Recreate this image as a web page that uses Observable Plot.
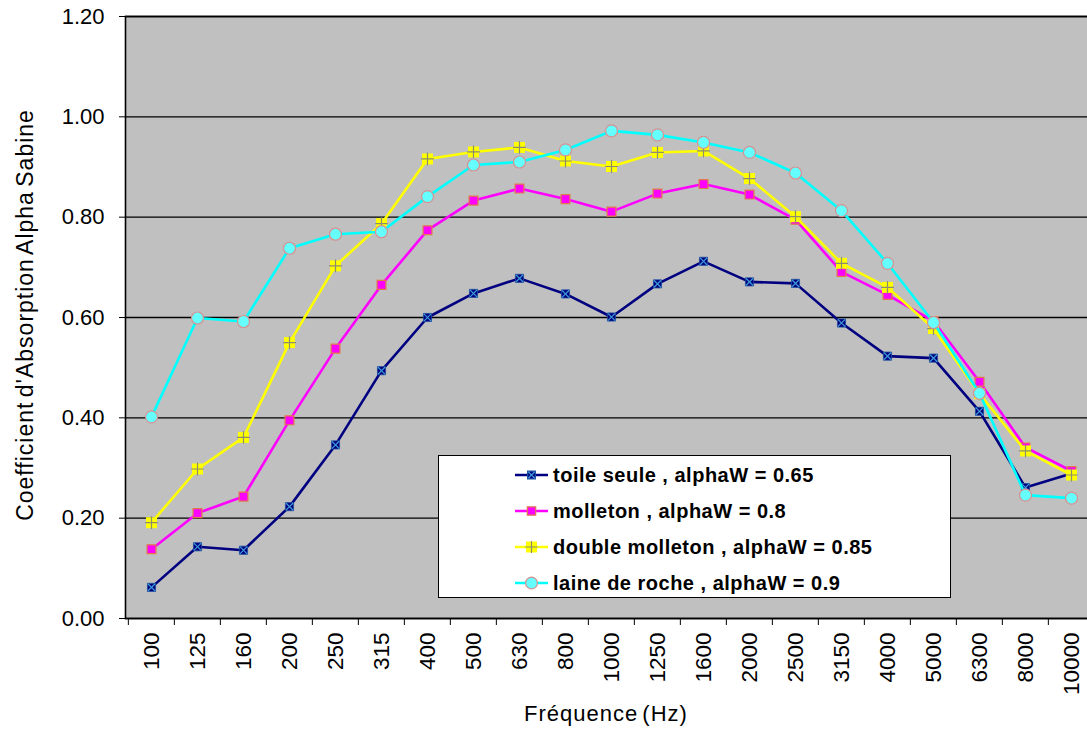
<!DOCTYPE html>
<html>
<head>
<meta charset="utf-8">
<script src="https://cdn.jsdelivr.net/npm/d3@7"></script>
<script src="https://cdn.jsdelivr.net/npm/@observablehq/plot@0.6"></script>
<style>
  html, body { margin: 0; padding: 0; background: #fff; }
  body { width: 1087px; height: 733px; overflow: hidden; position: relative; font-family: "Liberation Sans", Arial, sans-serif; }
  #chart { position: absolute; left: 0; top: 0; width: 1097px; }
  .ytitle { position: absolute; left: 25px; top: 315px; transform: translate(-50%, -50%) rotate(-90deg); white-space: nowrap; font-size: 23px; letter-spacing: 1px; word-spacing: -3px; color: #000; }
  .xtitle { position: absolute; left: 606px; top: 714px; transform: translate(-50%, -50%); white-space: nowrap; font-size: 22px; letter-spacing: 1px; word-spacing: -3px; color: #000; }
  #legend { position: absolute; left: 438px; top: 455px; width: 513px; height: 143px; background: #fff; border: 1px solid #000; box-sizing: border-box; }
  .lrow { position: absolute; left: 0; height: 30px; display: flex; align-items: center; }
  .lrow svg { margin-left: 76px; }
  .lrow span { margin-left: 4px; font-weight: bold; font-size: 20px; letter-spacing: 0.5px; color: #000; white-space: nowrap; }
</style>
</head>
<body>
<div id="chart"></div>
<div class="ytitle">Coefficient d'Absorption Alpha Sabine</div>
<div class="xtitle">Fréquence (Hz)</div>
<div id="legend"></div>
<script>
const freqs = ["100","125","160","200","250","315","400","500","630","800","1000","1250","1600","2000","2500","3150","4000","5000","6300","8000","10000"];
const toileSeule = [0.062,0.143,0.136,0.223,0.346,0.494,0.600,0.648,0.678,0.647,0.601,0.667,0.712,0.671,0.668,0.589,0.523,0.519,0.413,0.261,0.289];
const molleton = [0.138,0.210,0.243,0.395,0.538,0.665,0.774,0.833,0.857,0.836,0.811,0.847,0.866,0.845,0.795,0.691,0.645,0.593,0.472,0.341,0.294];
const doubleMolleton = [0.191,0.298,0.361,0.550,0.703,0.787,0.916,0.930,0.939,0.912,0.901,0.929,0.932,0.877,0.801,0.708,0.660,0.578,0.448,0.334,0.286];
const laineDeRoche = [0.402,0.599,0.592,0.738,0.766,0.771,0.841,0.904,0.910,0.934,0.972,0.964,0.949,0.929,0.888,0.813,0.708,0.590,0.449,0.246,0.240];
const seriesNames = ["toile seule , alphaW = 0.65","molleton , alphaW = 0.8","double molleton , alphaW = 0.85","laine de roche , alphaW = 0.9"];
const yTicks = [0,0.2,0.4,0.6,0.8,1.0,1.2];

const rows = (vals) => freqs.map((f, i) => ({f, v: vals[i]}));
const dToile = rows(toileSeule), dMoll = rows(molleton), dDouble = rows(doubleMolleton), dLaine = rows(laineDeRoche);

const W = 1097, H = 733, mL = 125, mR = 0, mT = 16, mB = 115;
const halfStep = (W - mL - mR) / freqs.length / 2;

const chart = Plot.plot({
  width: W, height: H,
  marginLeft: mL, marginRight: mR, marginTop: mT, marginBottom: mB,
  style: {fontFamily: "'Liberation Sans', Arial, sans-serif", fontSize: "22px", background: "transparent", color: "#000", maxWidth: "none"},
  x: {type: "point", domain: freqs, padding: 0.5},
  y: {domain: [0, 1.2]},
  marks: [
    Plot.frame({fill: "#c0c0c0"}),
    Plot.gridY(yTicks, {stroke: "#000", strokeOpacity: 1, strokeWidth: 1.3}),
    Plot.frame({stroke: "#000", strokeWidth: 1.6}),
    Plot.axisY(yTicks, {tickFormat: d3.format(".2f"), tickSize: 6, tickPadding: 15, label: null, stroke: "#000", fontSize: 22}),
    Plot.axisX({tickSize: 0, tickPadding: 14, tickRotate: -90, label: null, fontSize: 22.5}),
    Plot.axisX({tickSize: 7, tickFormat: () => "", dx: -halfStep, label: null, stroke: "#000"}),
    // toile seule
    Plot.line(dToile, {x: "f", y: "v", stroke: "#000080", strokeWidth: 2.6}),
    Plot.dot(dToile, {x: "f", y: "v", symbol: "square", r: 4.6, fill: "#000080", stroke: "#1c4fa0", strokeWidth: 0.8}),
    Plot.dot(dToile, {x: "f", y: "v", symbol: "times", r: 3.4, stroke: "#3d9ad6", strokeWidth: 1.2}),
    // molleton
    Plot.line(dMoll, {x: "f", y: "v", stroke: "#ff00ff", strokeWidth: 2.6}),
    Plot.dot(dMoll, {x: "f", y: "v", symbol: "square", r: 5, fill: "#ff00ff", stroke: "#e07a4a", strokeWidth: 1.2}),
    // double molleton
    Plot.line(dDouble, {x: "f", y: "v", stroke: "#ffff00", strokeWidth: 2.6}),
    Plot.dot(dDouble, {x: "f", y: "v", symbol: "square", r: 6.2, fill: "#ffff00", stroke: "none"}),
    Plot.dot(dDouble, {x: "f", y: "v", symbol: "plus", r: 4.2, stroke: "#8c8c70", strokeWidth: 1.2}),
    // laine de roche
    Plot.line(dLaine, {x: "f", y: "v", stroke: "#00ffff", strokeWidth: 2.6}),
    Plot.dot(dLaine, {x: "f", y: "v", symbol: "circle", r: 6, fill: "#66ffff", stroke: "#d89090", strokeWidth: 1.2})
  ]
});
document.getElementById("chart").appendChild(chart);

// Legend
const legendSpecs = [
  {line: "#000080", marks: [{t: d3.symbolSquare, s: 60, fill: "#000080", stroke: "#1c4fa0"}, {t: d3.symbolTimes, s: 30, fill: "none", stroke: "#3d9ad6"}]},
  {line: "#ff00ff", marks: [{t: d3.symbolSquare, s: 70, fill: "#ff00ff", stroke: "#e07a4a"}]},
  {line: "#ffff00", marks: [{t: d3.symbolSquare, s: 120, fill: "#ffff00", stroke: "none"}, {t: d3.symbolPlus, s: 50, fill: "none", stroke: "#8c8c70"}]},
  {line: "#00ffff", marks: [{t: d3.symbolCircle, s: 110, fill: "#66ffff", stroke: "#d89090"}]}
];
const legend = d3.select("#legend");
const rowTops = [4, 40, 76, 112];
legendSpecs.forEach((spec, i) => {
  const row = legend.append("div").attr("class", "lrow").style("top", rowTops[i] + "px");
  const svg = row.append("svg").attr("width", 34).attr("height", 30);
  svg.append("line").attr("x1", 0).attr("x2", 33).attr("y1", 15).attr("y2", 15).attr("stroke", spec.line).attr("stroke-width", 2.5);
  spec.marks.forEach(m => {
    svg.append("path").attr("transform", "translate(16.5,15)").attr("d", d3.symbol(m.t, m.s)())
      .attr("fill", m.fill).attr("stroke", m.stroke).attr("stroke-width", 1.2);
  });
  row.append("span").text(seriesNames[i]);
});
</script>
</body>
</html>
